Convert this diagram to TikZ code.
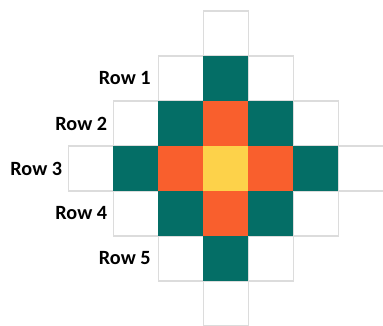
\documentclass[tikz,border=0pt]{standalone}
\usepackage{fontspec}
\setmainfont{Carlito}
\usetikzlibrary{positioning}

\definecolor{tealcell}{HTML}{046E66}
\definecolor{orangecell}{HTML}{F95F2D}
\definecolor{yellowcell}{HTML}{FDD24A}
\definecolor{gridline}{HTML}{DCDCDC}

\begin{document}
\begin{tikzpicture}[x=0.9cm, y=-0.9cm,
    cell/.style={rectangle, minimum size=0.9cm, inner sep=0pt, outer sep=0pt},
    rowlabel/.style={inner sep=0pt, font=\fontsize{11.5}{13}\selectfont\bfseries}]
    \useasboundingbox (-2.022,-0.744) rectangle (6.489,6.5);

    % outer ring
    \begin{scope}[every node/.style={cell, draw=gridline, line width=0.8pt, fill=white}]
        \node (30) at (3,0) {};
        \node (21) at (2,1) {};
        \node (41) at (4,1) {};
        \node (12) at (1,2) {};
        \node (52) at (5,2) {};
        \node (03) at (0,3) {};
        \node (63) at (6,3) {};
        \node (14) at (1,4) {};
        \node (54) at (5,4) {};
        \node (25) at (2,5) {};
        \node (45) at (4,5) {};
        \node (36) at (3,6) {};
    \end{scope}

    \begin{scope}[every node/.style={cell, fill=tealcell}]
        \node (31) at (3,1) {};
        \node (22) at (2,2) {};
        \node (42) at (4,2) {};
        \node (13) at (1,3) {};
        \node (53) at (5,3) {};
        \node (24) at (2,4) {};
        \node (44) at (4,4) {};
        \node (35) at (3,5) {};
    \end{scope}

    \begin{scope}[every node/.style={cell, fill=orangecell}]
        \node (32) at (3,2) {};
        \node (23) at (2,3) {};
        \node (43) at (4,3) {};
        \node (34) at (3,4) {};
    \end{scope}

    \node [cell, fill=yellowcell] (33) at (3,3) {};

    % labels
    \node [rowlabel, left=0.15cm of 21] (row1) {Row 1};
    \node [rowlabel, left=0.12cm of 12] (row2) {Row 2};
    \node [rowlabel, left=0.12cm of 03] (row3) {Row 3};
    \node [rowlabel, left=0.12cm of 14] (row4) {Row 4};
    \node [rowlabel, left=0.15cm of 25] (row5) {Row 5};

\end{tikzpicture}
\end{document}
